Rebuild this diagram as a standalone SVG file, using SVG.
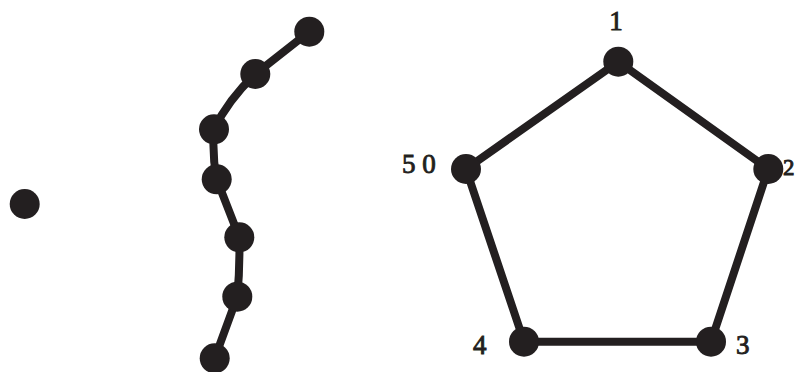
<svg xmlns="http://www.w3.org/2000/svg" width="795" height="372" viewBox="0 0 795 372">
<style>
.e{fill:none;stroke:#231f20;stroke-width:8;stroke-linejoin:round;stroke-linecap:round}
.n{fill:#231f20}
.t{font-family:"Liberation Serif",serif;font-size:27px;fill:#231f20;stroke:#231f20;stroke-width:0.9}
</style>
<rect width="795" height="372" fill="#fff"/>
<g id="connectors">
<path class="e" d="M309.3,31.7 L255.3,74 Q228,100 214,129.3 Q212,155 216.7,179.3 L239.3,237.3 Q240,268 237.3,296.7 L214.7,358.3"/>
<path class="e" d="M618.3,61.7 L768.3,169 L711,341.7 L524,341.7 L466,169 Z"/>
</g>
<g id="isolated"><circle class="n" cx="24.7" cy="204" r="15"/></g>
<g id="chain">
<circle class="n" cx="309.3" cy="31.7" r="15"/>
<circle class="n" cx="255.3" cy="74" r="15"/>
<circle class="n" cx="214" cy="129.3" r="15"/>
<circle class="n" cx="216.7" cy="179.3" r="15"/>
<circle class="n" cx="239.3" cy="237.3" r="15"/>
<circle class="n" cx="237.3" cy="296.7" r="15"/>
<circle class="n" cx="214.7" cy="358.3" r="15"/>
</g>
<g id="v1"><circle class="n" cx="618.3" cy="61.7" r="15"/><text class="t" x="616" y="30" text-anchor="middle">1</text></g>
<g id="v2"><circle class="n" cx="768.3" cy="169" r="15"/><text class="t" x="783" y="175" style="font-size:23px">2</text></g>
<g id="v3"><circle class="n" cx="711" cy="341.7" r="15"/><text class="t" x="736" y="354">3</text></g>
<g id="v4"><circle class="n" cx="524" cy="341.7" r="15"/><text class="t" x="473" y="354">4</text></g>
<g id="v5"><circle class="n" cx="466" cy="169" r="15"/><text class="t" x="402" y="173">5 0</text></g>
</svg>
